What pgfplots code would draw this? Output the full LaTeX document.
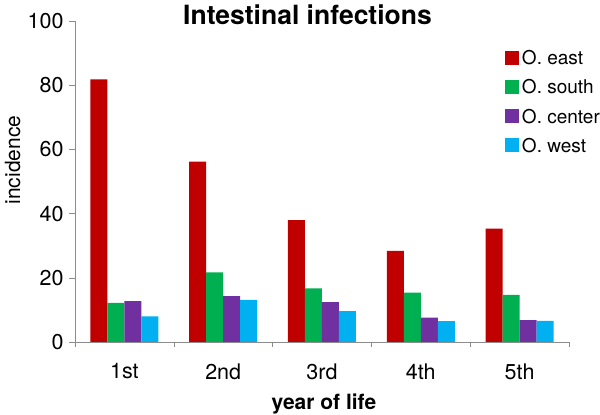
\documentclass[border=0pt]{standalone}
\usepackage{pgfplots}
\pgfplotsset{compat=1.18}
\usepackage{fontspec}
\setmainfont{TeX Gyre Heros}

\definecolor{oeast}{HTML}{C00000}
\definecolor{osouth}{HTML}{00B050}
\definecolor{ocenter}{HTML}{7030A0}
\definecolor{owest}{HTML}{00B0F0}
\definecolor{axgray}{HTML}{8C8C8C}

\begin{document}
\begin{tikzpicture}
\begin{axis}[
    scale only axis,
    width=494pt, height=321pt,
    xmin=-0.5, xmax=4.5,
    ymin=0, ymax=100,
    ybar=0pt, bar width=17pt,
    axis lines*=left,
    axis line style={axgray},
    tick style={axgray},
    tick align=outside,
    major tick length=6pt,
    minor tick length=5pt,
    xtick={0,1,2,3,4},
    xticklabels={1st,2nd,3rd,4th,5th},
    major x tick style={draw=none},
    minor xtick={-0.5,0.5,1.5,2.5,3.5,4.5},
    ytick={0,20,40,60,80,100},
    /pgf/number format/assume math mode=true,
    ticklabel style={font=\fontsize{21.5}{25}\selectfont},
    yticklabel style={xshift=-2pt},
    xticklabel style={yshift=-12pt},
    ylabel={incidence},
    ylabel style={font=\fontsize{21}{25}\selectfont, at={(axis description cs:-0.1265,0.567)}, anchor=center},
    xlabel={\bfseries year of life},
    xlabel style={font=\fontsize{21}{25}\selectfont, at={(axis description cs:0.504,-0.209)}, anchor=base},
    legend style={draw=none, fill=none, inner sep=0pt,
        at={(axis description cs:0.870,0.915)}, anchor=north west,
        font=\fontsize{19}{23}\selectfont, row sep=9.5pt,
        /tikz/every odd column/.append style={column sep=1pt}},
    legend cell align=left,
    legend image code/.code={\fill[#1] (0pt,-6.5pt) rectangle (14pt,7.5pt);},
]
\addplot[fill=oeast, draw=none] coordinates {(0,81.8) (1,56.2) (2,38.0) (3,28.4) (4,35.3)};
\addplot[fill=osouth, draw=none] coordinates {(0,12.2) (1,21.7) (2,16.7) (3,15.4) (4,14.7)};
\addplot[fill=ocenter, draw=none] coordinates {(0,12.7) (1,14.3) (2,12.4) (3,7.6) (4,6.8)};
\addplot[fill=owest, draw=none] coordinates {(0,8.0) (1,13.1) (2,9.6) (3,6.5) (4,6.6)};
\legend{O. east, O. south, O. center, O. west}
\end{axis}
\node[anchor=base, font=\fontsize{26.5}{30}\selectfont\bfseries] at (232.5pt,317pt) {Intestinal infections};
\pgfresetboundingbox
\path[use as bounding box] (-75pt,-73pt) rectangle (525pt,342pt);
\end{tikzpicture}
\end{document}
